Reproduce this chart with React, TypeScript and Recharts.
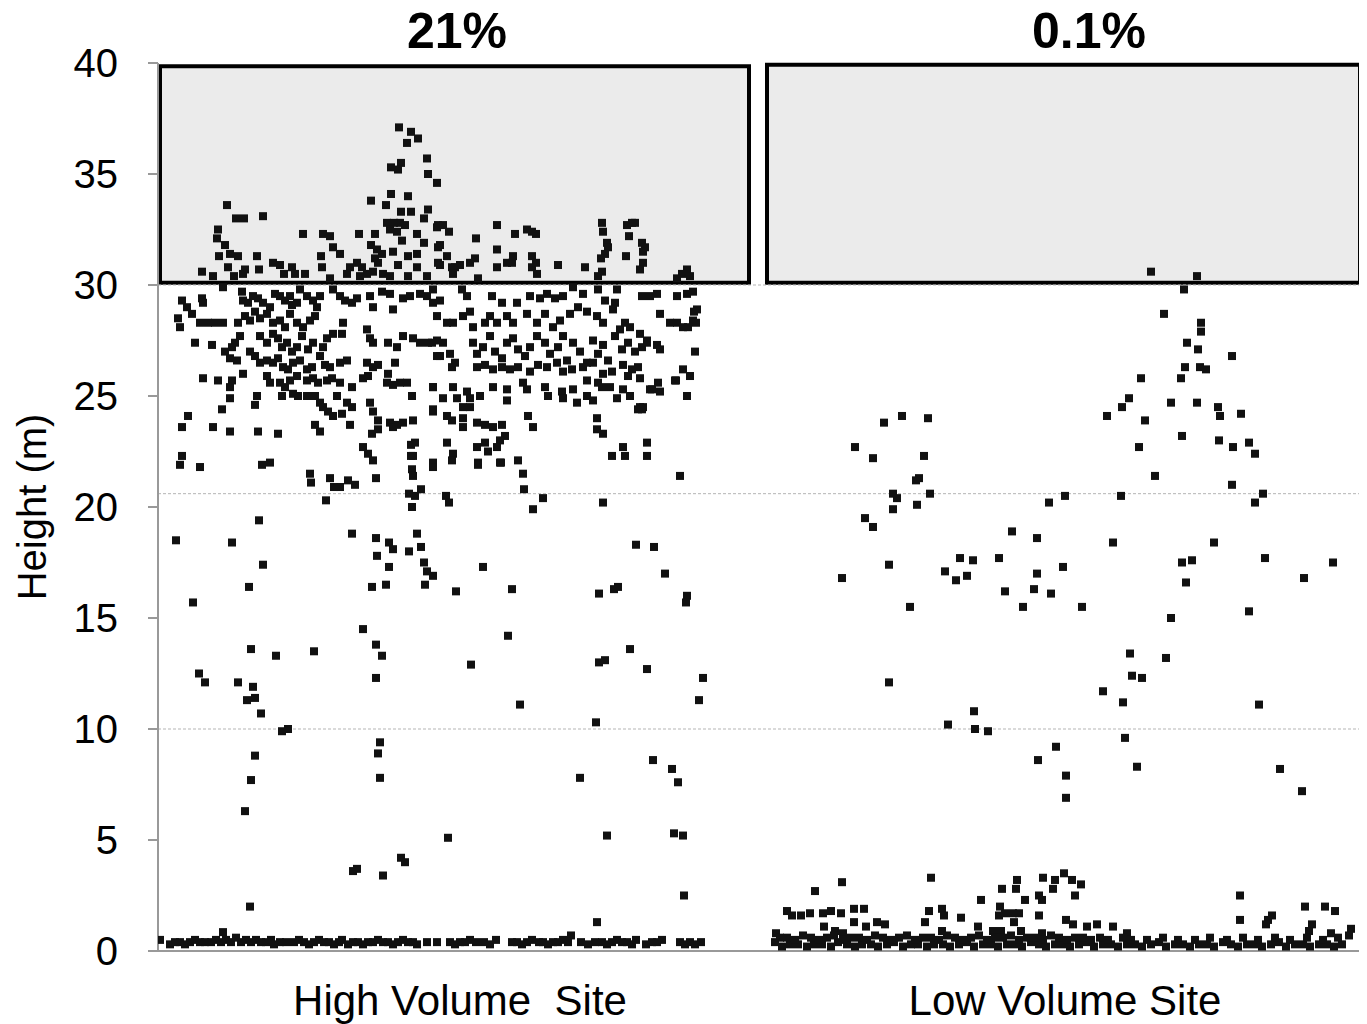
import React from "react";
import {
  ScatterChart,
  Scatter,
  XAxis,
  YAxis,
  ReferenceArea,
  ReferenceLine,
  ReferenceDot,
} from "recharts";

// x is the position along the plot (0-120.7), y the height in metres
type Pt = [number, number];

const siteNames = ["High Volume  Site", "Low Volume Site"];
const siteCentres = [30.2, 90.7];
const shareLabels = ["21%", "0.1%"];
const shareCentres = [29.9, 93.1];
const yTicks = [0, 5, 10, 15, 20, 25, 30, 35, 40];
const gridLevels = [10, 20.6, 30];
// tall-tree zone, one box per site: [x1, x2, y1, y2]
const zones: [number, number, number, number][] = [
  [0.2, 59.1, 30.1, 39.85],
  [60.9, 120.2, 30.1, 39.92],
];

const highUpper: Pt[] = [
  [24.1, 37.1], [25.3, 36.9], [26.0, 36.6], [24.9, 36.4], [26.9, 35.7], [27.0, 35.0], [27.9, 34.6],
  [24.3, 35.5], [23.3, 35.3], [24.0, 35.2], [6.9, 33.6], [7.8, 33.0], [8.6, 33.0], [10.5, 33.1],
  [21.3, 33.8], [23.3, 34.1], [25.0, 34.0], [22.8, 33.6], [24.3, 33.3], [25.3, 33.3], [27.0, 33.4],
  [26.6, 33.0], [22.9, 32.8], [23.6, 32.8], [24.2, 32.8], [24.7, 32.7], [23.2, 32.5], [23.9, 32.4],
  [6.0, 32.5], [5.9, 32.1], [6.7, 31.8], [6.1, 31.3], [7.2, 31.4], [8.0, 31.3], [9.9, 31.3],
  [14.5, 32.3], [16.5, 32.3], [17.2, 32.2], [17.5, 31.7], [18.2, 31.4], [20.1, 32.3], [21.7, 32.3],
  [21.3, 31.8], [21.9, 31.6], [22.4, 31.4], [21.7, 31.2], [23.5, 31.5], [24.4, 32.0], [25.9, 32.3],
  [26.6, 31.9], [25.0, 31.3], [25.9, 31.4], [25.9, 30.8], [24.0, 30.9], [27.9, 32.6], [28.0, 31.7],
  [28.0, 31.0], [7.0, 30.8], [4.4, 30.6], [5.5, 30.4], [7.6, 30.4], [8.7, 30.7], [8.5, 30.5],
  [10.1, 30.7], [11.5, 31.0], [12.2, 30.9], [13.4, 30.8], [13.7, 30.5], [12.6, 30.5], [14.7, 30.5],
  [16.3, 31.3], [16.4, 30.8], [19.2, 30.8], [19.9, 31.0], [20.4, 30.8], [20.9, 30.5], [21.5, 30.6],
  [22.0, 31.0], [22.5, 30.5], [23.2, 30.4], [18.9, 30.5], [20.2, 30.4], [25.0, 30.4], [26.9, 30.4],
  [17.2, 30.3], [28.0, 32.7], [28.5, 32.7], [29.1, 32.4], [28.2, 31.8], [28.9, 31.3], [28.2, 30.9],
  [29.4, 30.8], [29.7, 30.8], [30.2, 30.9], [29.5, 30.5], [31.8, 32.1], [32.0, 30.3], [31.2, 31.0],
  [31.7, 31.2], [33.9, 32.7], [33.9, 31.6], [33.9, 30.8], [35.7, 32.3], [34.9, 31.0], [35.4, 31.0],
  [35.5, 31.3], [36.9, 32.5], [37.4, 32.4], [37.8, 32.3], [37.4, 31.3], [37.8, 31.0], [37.4, 30.8],
  [37.9, 30.5], [40.0, 30.9], [42.7, 30.8], [44.4, 32.8], [44.5, 32.4], [44.9, 31.9], [45.0, 31.7],
  [44.7, 31.4], [44.3, 31.2], [44.4, 30.6], [44.0, 30.4], [46.9, 32.7], [47.4, 32.8], [47.7, 32.8],
  [47.1, 32.2], [48.4, 31.9], [48.7, 31.7], [48.5, 31.5], [46.8, 31.3], [48.5, 31.0], [48.2, 30.7],
  [52.9, 30.7], [52.4, 30.5], [53.2, 30.4], [51.9, 30.3],
];

const highMidWest: Pt[] = [
  [6.5, 29.9], [8.4, 29.7], [8.5, 29.3], [9.0, 29.2], [9.5, 29.5], [10.0, 29.4], [10.5, 29.2],
  [11.2, 29.0], [11.7, 29.6], [12.2, 29.5], [12.7, 29.3], [13.2, 29.5], [13.4, 29.1], [13.9, 29.2],
  [14.2, 29.8], [14.9, 29.5], [15.5, 29.3], [15.9, 29.0], [16.2, 29.5], [17.5, 29.8], [18.2, 29.5],
  [18.7, 29.3], [19.4, 29.2], [19.9, 29.4], [21.2, 29.5], [21.5, 29.0], [22.4, 29.7], [23.2, 29.6],
  [23.5, 28.9], [24.5, 29.4], [25.2, 29.5], [26.2, 29.6], [26.9, 29.5], [27.5, 29.2], [2.4, 29.3],
  [2.9, 29.0], [3.4, 28.7], [4.4, 29.4], [4.5, 29.2], [2.0, 28.5], [2.2, 28.1], [4.2, 28.3],
  [5.0, 28.3], [5.7, 28.3], [6.5, 28.3], [8.0, 28.3], [8.2, 27.7], [7.7, 27.4], [7.4, 27.2],
  [6.7, 27.0], [8.7, 28.6], [9.2, 28.4], [9.7, 28.8], [10.2, 28.5], [10.9, 28.7], [11.5, 28.3],
  [12.2, 28.4], [12.7, 28.1], [13.2, 28.7], [13.9, 28.3], [14.5, 28.1], [15.2, 28.4], [15.7, 28.6],
  [10.2, 27.7], [10.9, 27.4], [11.5, 27.8], [12.0, 27.6], [12.4, 27.2], [12.9, 27.4], [13.4, 27.0],
  [13.9, 27.2], [14.4, 27.7], [15.0, 27.1], [15.5, 27.4], [16.5, 27.2], [16.9, 27.6], [17.5, 27.8],
  [18.5, 28.3], [18.4, 27.8], [20.9, 28.0], [21.2, 27.6], [21.5, 27.4], [23.0, 27.4], [23.9, 27.2],
  [24.5, 27.7], [25.5, 27.6], [26.2, 27.4], [27.0, 27.4], [27.9, 27.5], [27.9, 26.8], [3.7, 27.4],
  [5.4, 27.3], [7.9, 26.6], [7.2, 26.7], [9.2, 27.0], [9.7, 26.8], [10.2, 26.5], [10.9, 26.6],
  [11.5, 26.5], [12.0, 26.7], [12.5, 26.3], [13.0, 26.2], [13.5, 26.5], [14.2, 26.6], [14.9, 26.2],
  [15.4, 26.3], [16.2, 26.8], [16.7, 26.4], [17.2, 26.3], [18.2, 26.5], [18.9, 26.6], [20.9, 26.5],
  [21.5, 26.3], [22.0, 26.4], [21.0, 25.9], [20.5, 25.8], [23.0, 26.0], [23.7, 26.5], [4.5, 25.8],
  [6.0, 25.7], [7.4, 25.7], [8.5, 26.0], [7.2, 25.4], [10.9, 25.9], [11.2, 25.6], [12.2, 25.6],
  [12.7, 25.4], [13.2, 25.7], [13.9, 25.9], [14.9, 25.7], [15.5, 25.8], [16.0, 25.6], [16.9, 25.7],
  [17.4, 25.8], [18.2, 25.6], [19.4, 25.4], [22.9, 25.6], [23.5, 25.5], [24.2, 25.6], [24.9, 25.6],
  [25.4, 25.0], [27.5, 25.4], [7.2, 24.9], [9.9, 25.0], [9.7, 24.6], [6.4, 24.4], [12.4, 25.0],
  [13.5, 25.1], [14.0, 25.0], [14.9, 25.0], [15.7, 25.0], [16.2, 24.7], [16.5, 24.5], [17.0, 24.3],
  [17.5, 24.1], [17.9, 25.0], [18.9, 24.7], [19.4, 24.5], [18.4, 24.2], [21.2, 24.7], [21.5, 24.3],
  [22.0, 23.9], [23.2, 23.8], [23.9, 23.7], [24.5, 23.8], [25.5, 23.9], [27.5, 24.3], [3.0, 24.1],
  [2.4, 23.6], [5.5, 23.6], [7.2, 23.4], [10.0, 23.4], [12.0, 23.3], [15.7, 23.7], [16.2, 23.4],
  [19.2, 23.7], [21.4, 23.3], [22.0, 23.5], [23.5, 23.6], [25.7, 22.9], [25.5, 22.3], [20.5, 22.7],
  [21.0, 22.4], [21.5, 22.1], [11.2, 22.0], [10.4, 21.9], [2.4, 22.3], [2.2, 21.9], [4.2, 21.8],
];

const highMidEast: Pt[] = [
  [27.5, 29.8], [28.2, 29.3], [30.4, 29.8], [30.9, 29.5], [33.4, 29.5], [34.4, 29.2], [35.9, 29.2],
  [37.2, 29.5], [38.2, 29.4], [38.9, 29.6], [39.7, 29.4], [40.5, 29.5], [41.5, 29.9], [42.5, 29.6],
  [44.0, 29.8], [44.7, 29.3], [45.7, 29.2], [45.9, 29.8], [48.4, 29.5], [49.2, 29.5], [49.9, 29.6],
  [51.9, 29.5], [52.9, 29.6], [53.5, 29.7], [53.9, 28.9], [27.9, 28.6], [28.9, 28.3], [29.5, 28.3],
  [30.5, 28.6], [31.2, 28.8], [31.5, 28.1], [32.7, 28.3], [33.2, 28.6], [33.9, 28.3], [34.9, 28.6],
  [35.5, 28.3], [36.9, 28.7], [37.9, 28.3], [38.7, 28.7], [39.5, 28.1], [40.2, 28.4], [41.2, 28.7],
  [42.0, 29.0], [42.9, 28.8], [43.9, 28.6], [44.5, 28.3], [45.5, 28.9], [46.2, 28.0], [46.7, 28.3],
  [47.2, 28.1], [48.2, 27.8], [48.9, 27.5], [50.2, 28.7], [51.9, 28.3], [52.5, 28.1], [53.5, 28.4],
  [53.6, 28.8], [53.0, 28.1], [53.8, 28.3], [51.2, 28.3], [27.4, 27.4], [28.5, 27.4], [29.2, 26.9],
  [29.7, 26.5], [29.4, 26.3], [28.2, 26.8], [31.5, 27.4], [31.9, 26.9], [32.5, 27.2], [33.2, 27.7],
  [33.7, 27.0], [34.4, 26.7], [34.9, 27.4], [35.5, 27.6], [36.0, 27.1], [36.7, 26.8], [37.2, 27.2],
  [37.9, 27.7], [38.7, 27.4], [39.2, 26.9], [40.0, 27.2], [40.5, 27.7], [40.9, 26.6], [41.5, 27.4],
  [42.2, 27.0], [42.9, 26.5], [43.5, 27.5], [44.0, 26.9], [44.5, 27.3], [45.0, 26.6], [45.7, 27.7],
  [46.4, 27.1], [47.0, 27.4], [47.7, 27.0], [48.4, 27.2], [48.9, 27.4], [49.9, 27.3], [50.2, 27.1],
  [53.7, 27.0], [31.9, 26.3], [32.7, 26.4], [33.5, 26.2], [34.4, 26.3], [35.2, 26.2], [36.0, 26.3],
  [37.2, 26.1], [38.0, 26.4], [38.9, 26.3], [39.9, 26.5], [40.5, 26.1], [41.4, 26.2], [42.5, 26.3],
  [43.5, 26.5], [44.5, 26.0], [45.4, 26.1], [46.5, 26.4], [47.4, 26.2], [48.0, 26.3], [48.2, 25.8],
  [47.0, 25.9], [27.5, 25.4], [28.5, 24.9], [29.5, 25.4], [29.9, 24.9], [30.9, 25.2], [31.2, 24.9],
  [32.2, 25.0], [31.2, 24.5], [30.5, 24.5], [33.5, 25.4], [34.9, 25.3], [34.9, 24.8], [36.5, 25.6],
  [36.9, 25.3], [38.7, 25.4], [39.0, 25.0], [40.4, 25.2], [40.5, 24.9], [41.5, 25.3], [41.9, 24.7],
  [42.9, 25.7], [42.9, 25.0], [43.5, 24.8], [44.0, 25.6], [44.4, 25.4], [45.2, 25.4], [45.9, 24.9],
  [46.5, 25.3], [47.2, 25.0], [48.2, 24.5], [48.5, 24.5], [49.4, 25.3], [50.0, 25.6], [50.2, 25.2],
  [51.7, 25.7], [52.5, 26.2], [52.9, 25.0], [53.2, 25.9], [51.8, 25.7], [49.2, 25.3], [27.5, 24.4],
  [28.9, 24.1], [29.4, 23.9], [30.5, 24.0], [30.5, 23.6], [31.9, 23.8], [32.7, 23.7], [33.5, 23.6],
  [34.4, 23.7], [34.7, 23.2], [34.2, 23.0], [37.0, 24.1], [37.5, 23.6], [43.9, 24.0], [43.9, 23.5],
  [44.5, 23.3], [48.4, 24.4], [48.0, 24.4], [28.9, 22.9], [29.5, 22.4], [29.4, 22.1], [31.9, 22.7],
  [32.7, 22.9], [33.0, 22.5], [33.9, 22.7], [32.0, 22.0], [34.2, 22.0], [36.0, 22.1], [45.4, 22.3],
  [46.5, 22.7], [46.7, 22.3], [48.9, 22.9], [48.9, 22.3], [27.5, 22.0],
];

const highLow: Pt[] = [
  [15.2, 21.5], [15.3, 21.1], [17.2, 21.3], [17.6, 20.9], [18.2, 20.9], [19.0, 21.2], [19.7, 21.0],
  [16.8, 20.3], [21.8, 21.3], [25.1, 20.6], [25.7, 20.5], [26.3, 20.8], [25.4, 20.0], [25.3, 22.8],
  [25.3, 22.3], [25.4, 21.7], [25.5, 21.4], [27.5, 21.8], [28.8, 20.5], [29.1, 20.2], [32.0, 21.9],
  [34.3, 22.0], [36.5, 21.5], [36.6, 20.8], [37.5, 19.9], [38.5, 20.4], [44.5, 20.2], [52.2, 21.4],
  [10.1, 19.4], [1.8, 18.5], [7.4, 18.4], [19.4, 18.8], [21.8, 18.6], [23.1, 18.4], [23.5, 18.1],
  [21.9, 17.8], [23.1, 17.3], [25.1, 18.0], [25.9, 18.8], [26.3, 18.2], [26.6, 17.5], [26.9, 17.1],
  [27.5, 16.9], [26.7, 16.5], [21.4, 16.4], [22.8, 16.5], [10.5, 17.4], [9.1, 16.4], [3.5, 15.7],
  [29.8, 16.2], [32.5, 17.3], [35.4, 16.3], [44.1, 16.1], [45.6, 16.3], [46.0, 16.4], [47.8, 18.3],
  [49.6, 18.2], [50.7, 17.0], [52.9, 16.0], [52.8, 15.7], [20.5, 14.5], [35.0, 14.2], [21.8, 13.8],
  [22.4, 13.3], [9.3, 13.6], [11.8, 13.3], [15.6, 13.5], [47.2, 13.6], [44.1, 13.0], [44.7, 13.1],
  [4.1, 12.5], [4.7, 12.1], [8.0, 12.1], [9.5, 11.9], [8.9, 11.3], [9.7, 11.4], [10.3, 10.7],
  [12.4, 9.9], [13.0, 10.0], [9.7, 8.8], [9.3, 7.7], [8.7, 6.3], [9.2, 2.0], [21.8, 12.3],
  [22.2, 9.4], [22.0, 8.9], [22.2, 7.8], [19.5, 3.6], [19.9, 3.7], [22.5, 3.4], [24.3, 4.2],
  [24.7, 4.0], [29.0, 5.1], [31.3, 12.9], [36.2, 11.1], [42.2, 7.8], [43.8, 10.3], [44.9, 5.2],
  [43.9, 1.3], [48.9, 12.7], [49.5, 8.6], [51.4, 8.2], [52.0, 7.6], [51.6, 5.3], [52.5, 5.2],
  [52.6, 2.5], [54.5, 12.3], [54.1, 11.3], [6.5, 0.85],
];

const highGround: Pt[] = [
  [0.2, 0.5], [1.2, 0.3], [1.7, 0.4], [2.2, 0.4], [2.7, 0.3], [3.2, 0.4], [3.7, 0.5], [4.2, 0.4],
  [4.7, 0.4], [5.3, 0.4], [5.8, 0.5], [6.3, 0.4], [6.8, 0.5], [7.3, 0.4], [7.8, 0.6], [8.3, 0.4],
  [8.8, 0.5], [9.3, 0.4], [9.8, 0.5], [10.3, 0.4], [10.8, 0.4], [11.3, 0.5], [11.6, 0.3], [12.2, 0.4],
  [12.8, 0.4], [13.6, 0.4], [14.1, 0.5], [14.6, 0.4], [15.1, 0.3], [15.6, 0.4], [16.1, 0.5],
  [16.6, 0.4], [17.1, 0.4], [17.6, 0.3], [18.1, 0.4], [18.4, 0.5], [19.0, 0.3], [19.5, 0.4],
  [20.0, 0.4], [20.5, 0.3], [21.0, 0.4], [21.5, 0.4], [22.0, 0.5], [22.5, 0.4], [23.0, 0.4],
  [23.5, 0.3], [24.0, 0.4], [24.5, 0.5], [25.0, 0.4], [25.5, 0.4], [25.9, 0.3], [26.9, 0.4],
  [27.9, 0.4], [29.2, 0.4], [29.7, 0.3], [30.2, 0.4], [30.7, 0.4], [31.2, 0.5], [31.8, 0.4],
  [32.6, 0.4], [33.2, 0.3], [33.8, 0.5], [35.4, 0.4], [35.9, 0.4], [36.4, 0.3], [36.9, 0.4],
  [37.4, 0.5], [38.1, 0.4], [38.5, 0.4], [39.0, 0.3], [39.5, 0.4], [40.0, 0.4], [40.5, 0.5],
  [41.0, 0.4], [41.3, 0.7], [42.3, 0.4], [43.0, 0.3], [43.7, 0.4], [44.4, 0.4], [44.9, 0.3],
  [45.4, 0.4], [45.9, 0.5], [46.4, 0.4], [46.9, 0.4], [47.4, 0.3], [47.8, 0.5], [48.8, 0.3],
  [49.4, 0.4], [49.9, 0.4], [50.4, 0.5], [52.2, 0.4], [52.7, 0.3], [53.2, 0.4], [53.7, 0.3],
  [54.3, 0.4],
];

const lowMid: Pt[] = [
  [99.3, 30.6], [103.9, 30.4], [102.6, 29.8], [100.6, 28.7], [104.3, 28.3], [104.3, 27.9],
  [102.9, 27.4], [104.0, 27.1], [107.4, 26.8], [102.7, 26.3], [104.2, 26.3], [104.8, 26.2],
  [102.3, 25.8], [98.3, 25.8], [97.1, 24.9], [101.3, 24.7], [103.9, 24.7], [96.4, 24.5],
  [94.9, 24.1], [98.7, 23.9], [106.0, 24.5], [106.2, 24.1], [108.3, 24.2], [102.4, 23.2],
  [98.1, 22.7], [106.1, 23.0], [107.5, 22.7], [109.1, 22.9], [109.7, 22.4], [99.7, 21.4],
  [107.4, 21.0], [96.3, 20.5], [110.5, 20.6], [109.7, 20.2], [105.6, 18.4], [95.5, 18.4],
  [102.4, 17.5], [103.4, 17.6], [102.8, 16.6], [110.7, 17.7], [114.6, 16.8], [117.5, 17.5],
  [101.3, 15.0], [109.1, 15.3], [97.2, 13.4], [100.8, 13.2], [69.7, 22.7], [71.5, 22.2],
  [72.6, 23.8], [74.4, 24.1], [77.0, 24.0], [76.6, 22.3], [75.8, 21.2], [76.1, 21.3], [77.2, 20.6],
  [73.5, 20.6], [73.9, 20.4], [73.5, 19.9], [75.9, 20.1], [70.7, 19.5], [71.5, 19.1], [68.4, 16.8],
  [73.1, 17.4], [75.2, 15.5], [78.7, 17.1], [79.8, 16.7], [80.9, 16.9], [80.2, 17.7], [81.5, 17.6],
  [84.1, 17.7], [85.4, 18.9], [87.9, 18.6], [89.1, 20.2], [90.7, 20.5], [87.9, 17.0], [90.5, 17.3],
  [84.7, 16.2], [87.6, 16.3], [89.3, 16.1], [86.5, 15.5], [92.4, 15.5], [73.1, 12.1], [81.6, 10.8],
  [79.0, 10.2], [81.7, 10.0], [83.0, 9.9], [88.0, 8.6], [89.8, 9.2], [90.8, 7.9], [90.8, 6.9],
  [94.5, 11.7], [96.5, 11.2], [97.4, 12.4], [98.4, 12.3], [96.7, 9.6], [97.9, 8.3], [110.1, 11.1],
  [112.2, 8.2], [114.4, 7.2],
];

const lowLow: Pt[] = [
  [65.7, 2.7], [68.4, 3.1], [62.9, 1.8], [63.4, 1.6], [64.3, 1.6], [65.2, 1.7], [66.5, 1.7],
  [67.3, 1.8], [68.3, 1.7], [69.6, 1.9], [70.6, 1.9], [66.6, 1.1], [67.7, 0.9], [68.5, 0.8],
  [69.6, 1.3], [70.8, 1.1], [71.9, 1.3], [72.7, 1.2], [77.3, 3.3], [77.1, 1.8], [78.4, 1.9],
  [78.6, 1.6], [76.7, 1.3], [78.4, 0.9], [80.3, 1.5], [82.3, 2.3], [82.0, 1.1], [84.4, 2.8],
  [85.9, 3.2], [85.8, 2.8], [84.2, 2.0], [84.1, 1.6], [84.7, 1.7], [85.5, 1.7], [86.1, 1.7],
  [86.7, 2.3], [88.1, 2.5], [88.4, 2.3], [88.1, 1.6], [85.6, 1.3], [86.3, 0.9], [83.5, 0.9],
  [84.3, 0.9], [88.4, 0.8], [88.5, 3.3], [89.7, 3.2], [89.5, 2.8], [90.6, 3.5], [91.4, 3.2],
  [92.3, 3.0], [91.7, 2.5], [90.8, 1.4], [91.5, 1.2], [92.9, 1.1], [93.9, 1.2], [95.5, 1.1],
  [96.9, 0.8], [108.2, 2.5], [108.2, 1.4], [111.0, 1.4], [111.4, 1.6], [110.8, 1.2], [114.7, 2.0],
  [116.7, 2.0], [117.7, 1.8], [115.4, 1.2], [115.1, 0.9], [117.3, 0.8], [119.3, 1.0], [119.1, 0.7],
];

const lowGround: Pt[] = [
  [61.7, 0.4], [62.4, 0.2], [63.2, 0.3], [64.0, 0.3], [64.9, 0.2], [65.6, 0.3], [66.4, 0.3],
  [67.3, 0.2], [68.0, 0.4], [68.9, 0.3], [69.7, 0.2], [70.4, 0.3], [71.3, 0.3], [72.0, 0.2],
  [72.9, 0.3], [73.6, 0.4], [74.5, 0.2], [75.3, 0.3], [76.0, 0.3], [76.9, 0.2], [77.6, 0.3],
  [78.5, 0.3], [79.2, 0.2], [80.1, 0.3], [80.9, 0.4], [81.6, 0.2], [82.5, 0.3], [83.3, 0.3],
  [84.0, 0.2], [84.9, 0.3], [85.7, 0.3], [86.4, 0.2], [87.3, 0.4], [88.1, 0.3], [88.8, 0.2],
  [89.7, 0.3], [90.5, 0.3], [91.2, 0.2], [92.1, 0.3], [92.9, 0.4], [93.6, 0.2], [94.5, 0.3],
  [95.3, 0.3], [96.0, 0.2], [96.9, 0.3], [97.7, 0.3], [98.4, 0.2], [99.3, 0.3], [100.1, 0.4],
  [100.8, 0.2], [101.7, 0.3], [102.5, 0.3], [103.2, 0.2], [104.1, 0.3], [104.9, 0.3], [105.6, 0.2],
  [106.5, 0.4], [107.3, 0.3], [108.0, 0.2], [108.9, 0.3], [109.7, 0.3], [110.4, 0.2], [111.3, 0.3],
  [112.1, 0.4], [112.8, 0.2], [113.7, 0.3], [114.5, 0.3], [115.2, 0.2], [116.1, 0.3], [116.9, 0.3],
  [117.6, 0.2], [118.4, 0.3], [61.8, 0.8], [62.2, 0.6], [62.9, 0.6], [63.7, 0.5], [64.5, 0.7],
  [65.3, 0.6], [66.1, 0.5], [66.9, 0.6], [67.6, 0.7], [68.5, 0.5], [69.3, 0.6], [70.1, 0.6],
  [70.9, 0.5], [71.7, 0.7], [72.5, 0.6], [73.3, 0.5], [74.1, 0.6], [74.9, 0.7], [75.7, 0.5],
  [76.5, 0.6], [77.3, 0.6], [78.1, 0.5], [78.9, 0.7], [79.7, 0.6], [80.5, 0.5], [81.3, 0.6],
  [82.1, 0.7], [82.9, 0.5], [83.7, 0.6], [84.5, 0.6], [85.3, 0.7], [86.1, 0.5], [86.9, 0.6],
  [87.7, 0.6], [88.5, 0.5], [89.3, 0.7], [90.1, 0.6], [90.9, 0.5], [91.7, 0.6], [92.5, 0.6],
  [93.3, 0.5], [94.2, 0.6], [95.0, 0.5], [96.5, 0.6], [97.3, 0.5], [98.9, 0.5], [100.5, 0.6],
  [102.0, 0.5], [103.7, 0.5], [105.2, 0.6], [106.9, 0.5], [108.5, 0.6], [110.0, 0.5], [111.7, 0.6],
  [113.2, 0.5], [114.9, 0.6], [116.5, 0.5], [118.0, 0.6],
];

const toRows = (pts: Pt[]) => pts.map(([x, y]) => ({ x, y }));
const treeData = toRows([
  ...highUpper,
  ...highMidWest,
  ...highMidEast,
  ...highLow,
  ...highGround,
  ...lowMid,
  ...lowLow,
  ...lowGround,
]);

const FONT = "'Liberation Sans', Arial, sans-serif";

const TreeMark = (props: any) => {
  const { cx, cy } = props;
  if (cx == null || cy == null) return null;
  return <rect x={cx - 4} y={cy - 4} width={8} height={8} fill="#111" />;
};

const SiteTick = (props: any) => {
  const { x, y, payload } = props;
  const i = siteCentres.indexOf(payload.value);
  return (
    <text
      x={x}
      y={y}
      dy="0.71em"
      textAnchor="middle"
      fontSize={42}
      fontFamily={FONT}
      fill="#000"
      style={{ whiteSpace: "pre" }}
    >
      {siteNames[i]}
    </text>
  );
};

export default function App() {
  // pull the chart up over the body margin so the bold titles fit in the svg
  return (
    <div style={{ fontFamily: FONT, marginTop: -8 }}>
      <ScatterChart
        width={1359}
        height={1024}
        margin={{ top: 63, right: 2, bottom: 0, left: 0 }}
      >
        <XAxis
          type="number"
          dataKey="x"
          domain={[0, 120.7]}
          ticks={siteCentres}
          tick={<SiteTick />}
          tickLine={false}
          tickSize={0}
          tickMargin={34}
          axisLine={{ stroke: "#999", strokeWidth: 2 }}
          height={73}
          interval={0}
          allowDataOverflow
        />
        <YAxis
          type="number"
          dataKey="y"
          domain={[0, 40]}
          ticks={yTicks}
          interval={0}
          width={150}
          tick={{ fontSize: 40, fill: "#000", fontFamily: FONT }}
          tickSize={10}
          tickMargin={30}
          tickLine={{ stroke: "#999", strokeWidth: 2 }}
          axisLine={{ stroke: "#999", strokeWidth: 2 }}
          label={{
            value: "Height (m)",
            angle: -90,
            position: "insideLeft",
            offset: 24,
            fontSize: 40,
            fill: "#000",
            style: { textAnchor: "middle", fontFamily: FONT },
          }}
        />
        {gridLevels.map((g) => (
          <ReferenceLine
            key={g}
            y={g}
            stroke="#b5b5b5"
            strokeDasharray="3 2"
            strokeWidth={1}
          />
        ))}
        {zones.map(([x1, x2, y1, y2], i) => (
          <ReferenceArea
            key={i}
            x1={x1}
            x2={x2}
            y1={y1}
            y2={y2}
            fill="#ebebeb"
            fillOpacity={1}
            stroke="#000"
            strokeWidth={4}
          />
        ))}
        {shareLabels.map((s, i) => (
          <ReferenceDot
            key={s}
            x={shareCentres[i]}
            y={40}
            r={0}
            fill="none"
            stroke="none"
            ifOverflow="visible"
            label={{
              value: s,
              position: "top",
              offset: 15,
              fontSize: 50,
              fontWeight: "bold",
              fill: "#000",
              fontFamily: FONT,
            }}
          />
        ))}
        <Scatter
          data={treeData}
          shape={<TreeMark />}
          isAnimationActive={false}
        />
      </ScatterChart>
    </div>
  );
}
